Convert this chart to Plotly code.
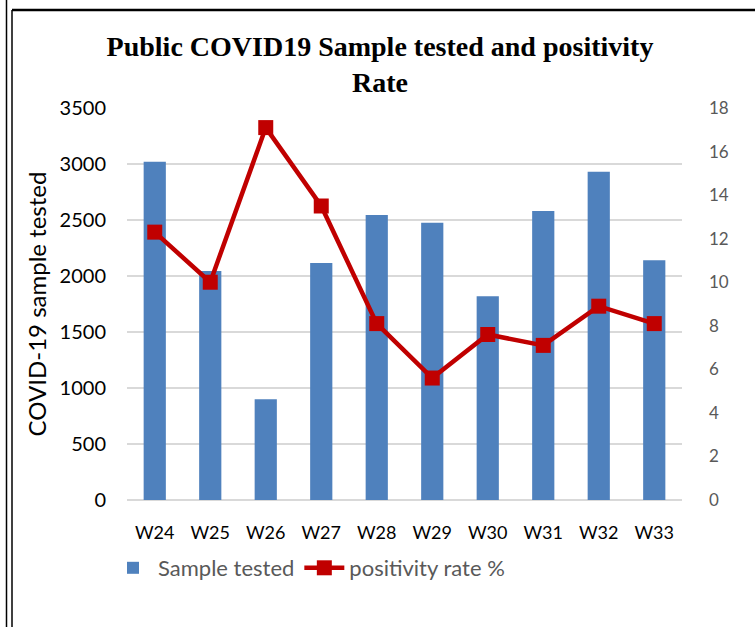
import plotly.graph_objects as go

weeks = ["W24", "W25", "W26", "W27", "W28", "W29", "W30", "W31", "W32", "W33"]
samples_tested = [3020, 2045, 900, 2115, 2545, 2475, 1820, 2580, 2930, 2140]
positivity_rate = [12.3, 10.0, 17.1, 13.5, 8.1, 5.6, 7.6, 7.1, 8.9, 8.1]
left_ticks = [0, 500, 1000, 1500, 2000, 2500, 3000, 3500]
right_ticks = [0, 2, 4, 6, 8, 10, 12, 14, 16, 18]

W, H = 755, 627
L, R, T, B = 127, 73, 108, 127
pw, ph = W - L - R, H - T - B

def px(x):
    return (x - L) / pw

def py(y):
    return (H - B - y) / ph

fig = go.Figure()
fig.add_trace(go.Bar(x=weeks, y=samples_tested, name="Sample tested",
                     marker=dict(color="#4f81bd", line=dict(width=0)), yaxis="y"))
fig.add_trace(go.Scatter(x=weeks, y=positivity_rate, name="positivity rate %",
                         mode="lines+markers", yaxis="y2",
                         line=dict(color="#c00000", width=4.5),
                         marker=dict(symbol="square", size=15, color="#c00000")))

font_main = "Lato, 'Open Sans', sans-serif"
fig.update_layout(
    width=W, height=H,
    margin=dict(l=L, r=R, t=T, b=B, autoexpand=False),
    paper_bgcolor="white", plot_bgcolor="white",
    bargap=0.6,
    title=dict(text="<b>Public COVID19 Sample tested and positivity<br>Rate</b>",
               x=380 / W, xanchor="center", y=1 - 56 / H, yanchor="top",
               font=dict(family="'Liberation Serif', 'Times New Roman', serif", size=28, color="black")),
    xaxis=dict(range=[-0.5, len(weeks) - 0.5], showgrid=False, showline=False, ticks="",
               automargin=False,
               tickfont=dict(family=font_main, size=18, color="black"),
               ticklabelstandoff=20),
    yaxis=dict(range=[0, 3500], tickvals=left_ticks, showgrid=True, automargin=False,
               gridcolor="#d9d9d9", gridwidth=1.5, zeroline=True,
               zerolinecolor="#d9d9d9", zerolinewidth=1.5,
               tickfont=dict(family=font_main, size=20, color="black"),
               ticklabelstandoff=20,
               title=dict(text="COVID-19 sample tested", standoff=6,
                          font=dict(family=font_main, size=24, color="black"))),
    yaxis2=dict(range=[0, 18], tickvals=right_ticks, overlaying="y", side="right",
                showgrid=False, zeroline=False, automargin=False,
                tickfont=dict(family=font_main, size=17, color="#595959"),
                ticklabelstandoff=26),
    legend=dict(orientation="h", x=px(108), xanchor="left", y=py(568), yanchor="middle",
                font=dict(family=font_main, size=22, color="#595959"),
                bgcolor="rgba(0,0,0,0)", itemwidth=40, tracegroupgap=0),
    showlegend=True,
    shapes=[
        dict(type="line", xref="paper", yref="paper", x0=px(6.5), x1=px(6.5), y0=py(0), y1=py(627),
             line=dict(color="black", width=1.5)),
        dict(type="line", xref="paper", yref="paper", x0=px(12), x1=px(12), y0=py(10), y1=py(627),
             line=dict(color="black", width=1.5)),
        dict(type="line", xref="paper", yref="paper", x0=px(12), x1=px(755), y0=py(10), y1=py(10),
             line=dict(color="black", width=2.5)),
    ],
)

fig.write_html("out.html", config={"displayModeBar": False},
               post_script="document.body.style.margin='0';document.body.style.overflow='hidden';")
